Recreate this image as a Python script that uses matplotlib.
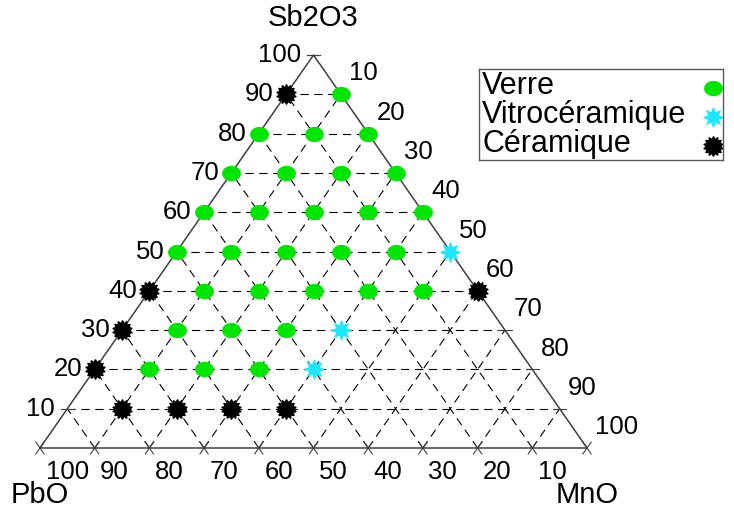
import numpy as np
import matplotlib
matplotlib.use("Agg")
import matplotlib.pyplot as plt
from matplotlib.path import Path

plt.rcParams["font.family"] = ["Liberation Sans", "DejaVu Sans"]

# compositions in mol %: Sb2O3 / MnO / PbO
verre_sb2o3 = [90, 80, 80, 80, 70, 70, 70, 70, 60, 60, 60, 60, 60,
               50, 50, 50, 50, 50, 40, 40, 40, 40, 40, 30, 30, 30, 20, 20, 20]
verre_mno = [10, 0, 10, 20, 0, 10, 20, 30, 0, 10, 20, 30, 40,
             0, 10, 20, 30, 40, 10, 20, 30, 40, 50, 10, 20, 30, 10, 20, 30]
verre_pbo = [0, 20, 10, 0, 30, 20, 10, 0, 40, 30, 20, 10, 0,
             50, 40, 30, 20, 10, 50, 40, 30, 20, 10, 60, 50, 40, 70, 60, 50]

vitro_sb2o3 = [50, 30, 20]
vitro_mno = [50, 40, 40]
vitro_pbo = [0, 30, 40]

ceram_sb2o3 = [90, 40, 40, 30, 20, 10, 10, 10, 10]
ceram_mno = [0, 0, 60, 0, 0, 10, 20, 30, 40]
ceram_pbo = [10, 60, 0, 70, 80, 80, 70, 60, 50]

series_names = ["Verre", "Vitrocéramique", "Céramique"]

grid_levels = [10, 20, 30, 40, 50, 60, 70, 80, 90]
tick_levels = [10, 20, 30, 40, 50, 60, 70, 80, 90, 100]
base_levels = [0, 10, 20, 30, 40, 50, 60, 70, 80, 90, 100]


def to_xy(sb2o3, mno, pbo):
    """Ternary -> cartesian, PbO at left, MnO at right, Sb2O3 on top."""
    sb2o3 = np.asarray(sb2o3, float)
    mno = np.asarray(mno, float)
    pbo = np.asarray(pbo, float)
    tot = sb2o3 + mno + pbo
    s = 100 * sb2o3 / tot
    m = 100 * mno / tot
    return m + s / 2, s


def burst(n, inner):
    ang = np.pi / 2 + np.arange(2 * n) * np.pi / n
    r = np.where(np.arange(2 * n) % 2 == 0, 1.0, inner)
    verts = np.column_stack([r * np.cos(ang), r * np.sin(ang)])
    verts = np.vstack([verts, verts[:1]])
    return Path(verts, closed=True)


t = np.linspace(0, 2 * np.pi, 49)
ellipse = Path(np.column_stack([np.cos(t), 0.8 * np.sin(t)]), closed=True)
star8 = burst(8, 0.5)
burst14 = burst(14, 0.72)

GREEN = "#00e600"
CYAN = "#1ee8ff"
styles = [
    dict(marker=ellipse, ms=12.5, color=GREEN, mec=GREEN),
    dict(marker=star8, ms=13.5, color=CYAN, mec=CYAN),
    dict(marker=burst14, ms=14, color="black", mec="black"),
]

fig = plt.figure(figsize=(7.34, 5.13), dpi=100)
ax = fig.add_axes([0, 0, 1, 1])
ax.set_xlim(-7.31, 126.87)
ax.set_ylim(-16.54, 114.0)
ax.axis("off")

dash = dict(color="black", lw=0.8, ls=(0, (7.5, 5)), zorder=1)
for v in grid_levels:
    ax.plot([v / 2, 100 - v / 2], [v, v], **dash)
    ax.plot([v, 50 + v / 2], [0, 100 - v], **dash)
    ax.plot([100 - v, (100 - v) / 2], [0, 100 - v], **dash)

# small solid ticks where the grid lines meet the frame
tk = dict(color="0.25", lw=0.8, zorder=1)
tl = 1.2
for s in tick_levels:
    ax.plot([s / 2 - tl, s / 2 + tl], [s, s], **tk)
    ax.plot([100 - s / 2 - tl, 100 - s / 2 + tl], [s, s], **tk)
d = 1.5
for v in base_levels:
    ax.plot([v - d / 2, v + d / 2], [-d, d], **tk)
    ax.plot([v + d / 2, v - d / 2], [-d, d], **tk)

ax.plot([0, 100, 50, 0], [0, 0, 100, 0], color="0.25", lw=1.1, zorder=2)

data = [(verre_sb2o3, verre_mno, verre_pbo),
        (vitro_sb2o3, vitro_mno, vitro_pbo),
        (ceram_sb2o3, ceram_mno, ceram_pbo)]
for (sb, mn, pb), name, st in zip(data, series_names, styles):
    x, y = to_xy(sb, mn, pb)
    ax.plot(x, y, ls="none", zorder=3, label=name, **st)

num = dict(fontsize=18.5, textcoords="offset points", va="center")
for s in tick_levels:
    ax.annotate(str(s), xy=(s / 2, s), xytext=(-9, 0), ha="right", **num)
for m in tick_levels:
    s = 100 - m
    ax.annotate(str(m), xy=(100 - s / 2, s), xytext=(6, 15), ha="left", **num)
for p in tick_levels[::-1]:
    ax.annotate(str(p), xy=(100 - p, 0), xytext=(4, -17), ha="left", **num)

name_kw = dict(fontsize=21, textcoords="offset points", ha="center",
               va="center")
ax.annotate("Sb2O3", xy=(50, 100), xytext=(0, 27), **name_kw)
ax.annotate("PbO", xy=(0, 0), xytext=(0, -34), **name_kw)
ax.annotate("MnO", xy=(100, 0), xytext=(0, -34), **name_kw)

# legend box: labels left-aligned, symbols in a column on the right
W, H = 734, 513
bx0, bx1, by0, by1 = 479, 723, 69, 160
lax = fig.add_axes([bx0 / W, 1 - by1 / H, (bx1 - bx0) / W, (by1 - by0) / H])
lax.set_xlim(0, bx1 - bx0)
lax.set_ylim(by1 - by0, 0)
lax.set_xticks([])
lax.set_yticks([])
for sp in lax.spines.values():
    sp.set_color("0.35")
    sp.set_linewidth(1.0)
rows = [19, 48, 77]
for yr, name, st in zip(rows, series_names, styles):
    lax.text(3, yr + 6, name, fontsize=22, ha="left", va="baseline")
    lax.plot([234], [yr], ls="none", **st)

fig.savefig("out.png", dpi=100)
